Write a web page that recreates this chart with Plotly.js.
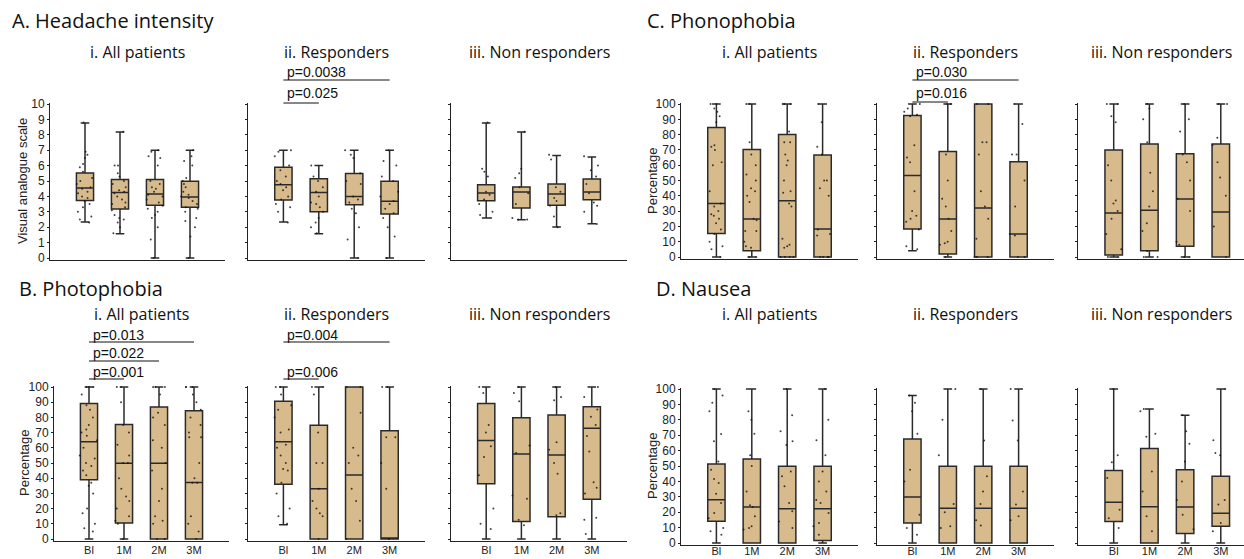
<!DOCTYPE html>
<html><head><meta charset="utf-8">
<script src="https://cdn.plot.ly/plotly-3.0.1.min.js"></script>
<style>html,body{margin:0;padding:0;background:#fff}#chart{width:1244px;height:559px}</style>
</head><body><div id="chart"></div>
<script>
// ---------- DATA ----------
const categories = ['Bl','1M','2M','3M'];
// stats per category: [lower whisker, Q1, median, Q3, upper whisker]
const statsA1 = [[2.34,3.74,4.55,5.52,8.77],[1.58,3.18,4.26,5.09,8.18],[0,3.42,4.16,5.09,7.0],[0,3.29,3.96,4.98,7.0]];
const statsA2 = [[2.34,3.77,4.76,5.89,7.0],[1.58,3.0,4.26,5.15,6.0],[0,3.46,4.0,5.48,7.0],[0,2.86,3.68,4.98,7.0]];
const statsA3 = [[2.6,3.72,4.22,4.76,8.77],[2.49,3.25,4.29,4.61,8.18],[2.01,3.42,4.16,4.81,6.65],[2.23,3.79,4.29,5.13,6.56]];
const statsC1 = [[0,15.3,34.9,84.7,100],[0,4.1,24.8,70.2,100],[0,0,36.8,80,100],[0,0,18.3,66.7,100]];
const statsC2 = [[4.1,18.3,53.2,92.5,100],[0,2,24.8,69,100],[0,0,32,100,100],[0,0,15,62.3,100]];
const statsC3 = [[0,1.3,28.8,70,100],[0,4.1,30.5,73.9,100],[0,7,37.9,67.5,100],[0,0,29.4,73.9,100]];
const statsB1 = [[0,38.9,64,89.1,100],[0,10.5,49.8,75.3,100],[0,0,49.8,86.9,100],[0,0,37.1,84.3,100]];
const statsB2 = [[9.4,36,64,90.6,100],[0,0,33,74.9,100],[0,0,42.1,100,100],[0,0,0,71.2,100]];
const statsB3 = [[0,36.3,64.8,89.1,100],[0,11.5,55.9,79.8,100],[0,14.6,55.2,81.5,100],[0,26.1,72.8,87,100]];
const statsD1 = [[0,14.1,28.1,51.3,100],[0,0,23.4,54.5,100],[0,0,22.3,49.8,100],[0,1.7,22.3,49.8,100]];
const statsD2 = [[0,13,29.9,67.5,95.7],[0,0,22.5,49.8,100],[0,0,22.5,49.8,100],[0,0,22.5,49.8,100]];
const statsD3 = [[0,13.9,26.4,47,100],[0,0,23.6,61.3,87],[0,6.1,23.4,47.6,82.9],[0,10.8,19.3,43.3,100]];

// individual patient values per category
const ptsA1 = [[8.8,6.9,6.7,6.5,6.1,5.9,5.6,5.2,5.0,4.8,4.6,4.5,4.3,4.2,4.0,3.9,3.7,3.5,3.3,3.0,2.7,2.5,2.3],
               [8.2,6.0,6.0,5.5,5.3,5.0,4.8,4.6,4.4,4.3,4.2,4.0,3.8,3.6,3.5,3.3,3.1,2.8,2.6,2.5,2.3,2.0,1.6],
               [7.0,6.9,6.6,6.5,6.0,5.0,4.8,4.6,4.5,4.3,4.1,4.0,3.8,3.6,3.4,3.2,3.0,2.8,2.6,2.0,1.2,0],
               [7.0,6.6,6.3,6.0,5.2,5.0,4.8,4.6,4.3,4.1,4.0,3.9,3.7,3.5,3.3,3.2,3.0,2.6,2.4,2.0,1.4,0]];
const ptsA2 = [[7.0,6.9,6.6,6.0,5.7,5.3,5.0,4.8,4.6,4.4,4.0,3.8,3.5,3.3,3.0,2.3],
               [6.0,5.3,5.0,4.6,4.3,4.0,3.6,3.5,3.3,3.0,2.6,2.3,2.0,1.6],
               [7.0,6.7,6.5,5.5,5.0,4.8,4.0,3.8,3.6,3.2,2.9,2.0,1.2,0],
               [7.0,6.3,6.0,5.3,5.0,4.3,4.0,3.7,3.5,3.2,2.9,2.6,2.0,1.4,0]];
const ptsA3 = [[8.8,5.8,5.6,5.3,4.3,4.1,3.8,3.5,3.0,2.8,2.6],
               [8.2,5.8,5.5,5.2,4.6,4.2,3.5,2.6,2.5,2.5],
               [6.7,6.4,4.6,4.3,3.9,3.7,3.4,2.7,2.0],
               [6.6,6.0,5.7,5.3,4.8,4.2,3.6,3.4,3.0,2.2]];
const ptsC1 = [[100,100,97,95,92,88,73,72,70,62,60,43,35,33,30,28,27,25,22,18,15,10,7,5,0],
               [100,100,75,67,60,54,50,45,43,40,36,25,24,17,17,10,7,6,0,0],
               [100,100,100,82,75,75,67,63,60,50,43,42,35,33,12,8,7,6,0,0,0,0],
               [100,88,72,67,50,50,45,40,18,15,14,0,0,0,0]];
const ptsC2 = [[100,97,95,93,92,73,65,62,43,30,27,25,23,18,7,5],
               [100,100,67,50,38,33,25,17,10,9,8,0],
               [100,100,75,75,67,43,33,25,12,0,0,0],
               [100,87,67,67,50,33,15,14,0,0]];
const ptsC3 = [[100,100,92,88,60,50,37,35,30,25,15,5,0,0],
               [100,97,90,75,55,43,33,22,17,4,0,0],
               [100,90,82,67,62,50,38,30,10,8,0,0],
               [100,100,78,73,62,52,40,20,0]];
const ptsB1 = [[100,100,100,95,88,85,80,75,72,70,68,65,60,55,53,50,48,45,42,37,35,30,20,17,10,7,5],
               [100,100,90,75,70,62,55,50,50,40,33,28,25,20,15,12,10,0],
               [100,100,100,95,83,80,75,65,60,50,45,33,25,15,12,10,0,0],
               [100,100,100,95,90,85,80,75,70,67,67,50,40,37,37,15,10,5,0]];
const ptsB2 = [[100,100,95,88,85,80,72,70,62,60,55,50,46,45,37,30,20,15,10],
               [100,100,95,70,50,50,33,25,20,17,15,0],
               [100,100,83,60,55,50,33,25,12,0],
               [100,100,67,67,50,33,0]];
const ptsB3 = [[100,96,75,70,61,54,42,20,10,6.5],
               [100,96,90.6,61.5,56.5,28.7,26.5,12.6,9],
               [100,93.5,91.3,63.7,58.7,50,43,17,15.6],
               [100,93.5,85.2,80.4,75,67.8,57.6,37.4,33.7,30,14,12.6,3.3]];
const ptsD1 = [[100,95.7,91,85.5,70.8,66,53,47.6,41.6,39,32,26,19.5,16,9.7,7.6,5.4],
               [100,85.5,80,71,57,50,33.5,24.5,23.4,17.3,10.8,9.7,8.7],
               [100,83,72.5,66,63.6,46.5,43.3,36.8,26,20.6,14,9.7],
               [100,80,66.7,57,46.5,40,33.5,28,26,19.5,13,10.8,5.4]];
const ptsD2 = [[95.7,91,85.5,71,47.6,40,18.4,9.7,5.4],
               [100,80,57,25.3,20,10.8,9.7],
               [100,66.5,43.3,33.5,25.3,14.7,11.3],
               [100,79.6,66.5,33.5,25,17.3,14.7]];
const ptsD3 = [[100,57,52.4,42.2,21.6,16,9.7],
               [87,85.5,71,69,46.5,33.5,17.3,7.6],
               [83,72.5,64.5,53,40,28,18.4,9],
               [100,66.7,58.4,57,28,25,13,7.6]];

// ---------- LAYOUT ----------
const W = 1244, H = 559;
const panels = [
  {stats:statsA1, pts:ptsA1, col:[50,225],   row:[104,258], xr:[-1,4],    ymax:10,  dtick:1,  ylab:true,  xlab:false, so:0,  sub:'i. All patients'},
  {stats:statsA2, pts:ptsA2, col:[248,425],  row:[104,258], xr:[-1,4],    ymax:10,  dtick:1,  ylab:false, xlab:false, so:0,  sub:'ii. Responders'},
  {stats:statsA3, pts:ptsA3, col:[451,627],  row:[104,258], xr:[-1,4],    ymax:10,  dtick:1,  ylab:false, xlab:false, so:0,  sub:'iii. Non responders'},
  {stats:statsC1, pts:ptsC1, col:[681,858],  row:[104,257], xr:[-1,4],    ymax:100, dtick:10, ylab:true,  xlab:false, so:0,  sub:'i. All patients'},
  {stats:statsC2, pts:ptsC2, col:[877,1054], row:[104,257], xr:[-1,4],    ymax:100, dtick:10, ylab:false, xlab:false, so:0,  sub:'ii. Responders'},
  {stats:statsC3, pts:ptsC3, col:[1078,1244],row:[104,257], xr:[-1,3.65], ymax:100, dtick:10, ylab:false, xlab:false, so:0,  sub:'iii. Non responders'},
  {stats:statsB1, pts:ptsB1, col:[54,229],   row:[387,539], xr:[-1,4],    ymax:100, dtick:10, ylab:true,  xlab:true,  so:-1, sub:'i. All patients'},
  {stats:statsB2, pts:ptsB2, col:[248,425],  row:[387,539], xr:[-1,4],    ymax:100, dtick:10, ylab:false, xlab:true,  so:-1, sub:'ii. Responders'},
  {stats:statsB3, pts:ptsB3, col:[451,627],  row:[387,539], xr:[-1,4],    ymax:100, dtick:10, ylab:false, xlab:true,  so:-1, sub:'iii. Non responders'},
  {stats:statsD1, pts:ptsD1, col:[681,858],  row:[389,543], xr:[-1,4],    ymax:100, dtick:10, ylab:true,  xlab:true,  so:-4, sub:'i. All patients'},
  {stats:statsD2, pts:ptsD2, col:[877,1054], row:[389,543], xr:[-1,4],    ymax:100, dtick:10, ylab:false, xlab:true,  so:-4, sub:'ii. Responders'},
  {stats:statsD3, pts:ptsD3, col:[1078,1244],row:[389,543], xr:[-1,3.65], ymax:100, dtick:10, ylab:false, xlab:true,  so:-4, sub:'iii. Non responders'}
];

const TICKFONT = {family:'Liberation Sans, Arial, sans-serif', size:12, color:'#222'};
const XTICKFONT = {family:'Liberation Sans, Arial, sans-serif', size:11, color:'#222'};
const TITLEFONT = 'Open Sans, Noto Sans, sans-serif';
const FILL = '#d8bb8c';

const traces = [];
const layout = {
  width: W, height: H, margin:{l:0,r:0,t:0,b:0},
  paper_bgcolor:'#fff', plot_bgcolor:'rgba(0,0,0,0)',
  showlegend:false, boxmode:'overlay',
  shapes:[], annotations:[]
};

panels.forEach((p, i) => {
  const n = i + 1, s = n === 1 ? '' : String(n);
  const xa = 'x' + s, ya = 'y' + s;
  traces.push({
    type:'box', xaxis:xa, yaxis:ya, x:categories,
    lowerfence:p.stats.map(v=>v[0]), q1:p.stats.map(v=>v[1]), median:p.stats.map(v=>v[2]),
    q3:p.stats.map(v=>v[3]), upperfence:p.stats.map(v=>v[4]),
    fillcolor:FILL, line:{color:'#2a2a2a', width:1.5}, width:0.49, whiskerwidth:0.5,
    boxpoints:false, hoverinfo:'skip'
  });
  const px = [], py = [];
  p.pts.forEach((arr, k) => arr.forEach(v => { px.push(categories[k]); py.push(v); }));
  traces.push({
    type:'box', xaxis:xa, yaxis:ya, x:px, y:py,
    boxpoints:'all', jitter:0.9, pointpos:0, width:0.6,
    fillcolor:'rgba(0,0,0,0)', line:{color:'rgba(0,0,0,0)', width:0},
    marker:{size:2, color:'rgba(20,20,20,0.8)'}, hoverinfo:'skip'
  });
  const pad = 1.5 * p.ymax / (p.row[1] - p.row[0]);
  layout['xaxis' + s] = {
    domain:[p.col[0]/W, p.col[1]/W], range:p.xr, type:'category', anchor:ya,
    showline:true, linecolor:'#222', linewidth:1, ticks:'', showgrid:false, zeroline:false,
    showticklabels:p.xlab, tickfont:XTICKFONT, ticklabelstandoff:p.so, fixedrange:true
  };
  layout['yaxis' + s] = {
    domain:[1 - (p.row[1]+1.5)/H, 1 - (p.row[0]-1.5)/H], range:[-pad, p.ymax + pad], anchor:xa,
    showline:true, linecolor:'#222', linewidth:1, ticks:'outside', ticklen:2, tickwidth:1, tickcolor:'#222',
    tick0:0, dtick:p.dtick, showgrid:false, zeroline:false, showticklabels:p.ylab, tickfont:TICKFONT,
    fixedrange:true
  };
  // subplot title
  const subY = n <= 6 ? 52 : 314;
  layout.annotations.push({
    xref:'paper', yref:'paper', x:((p.col[0]+p.col[1])/2)/W, y:1 - subY/H,
    xanchor:'center', yanchor:'middle', showarrow:false, text:p.sub,
    font:{family:TITLEFONT, size:16, color:'#111'}
  });
});

// panel titles
[['A. Headache intensity', 10, 20], ['B. Photophobia', 17, 288], ['C. Phonophobia', 645, 20], ['D. Nausea', 654, 288]]
 .forEach(t => layout.annotations.push({
   xref:'paper', yref:'paper', x:t[1]/W, y:1 - t[2]/H, xanchor:'left', yanchor:'middle',
   showarrow:false, text:t[0], font:{family:TITLEFONT, size:20, color:'#111'}
 }));

// y axis titles
[['Visual analogue scale', 22, 181], ['Percentage', 652, 181], ['Percentage', 24, 463], ['Percentage', 652, 466]]
 .forEach(t => layout.annotations.push({
   xref:'paper', yref:'paper', x:t[1]/W, y:1 - t[2]/H, xanchor:'center', yanchor:'middle',
   showarrow:false, text:t[0], textangle:-90, font:{family:'Liberation Sans, Arial, sans-serif', size:13, color:'#222'}
 }));

// significance bars: [axis suffix, p text, to-category index, text y px, line y px]
const sigBars = [
  ['2', 'p=0.0038', 3, 72, 80], ['2', 'p=0.025', 1, 93, 103],
  ['5', 'p=0.030', 3, 72, 80], ['5', 'p=0.016', 1, 93, 102],
  ['7', 'p=0.013', 3, 335, 342], ['7', 'p=0.022', 2, 353, 361], ['7', 'p=0.001', 1, 372, 379],
  ['8', 'p=0.004', 3, 335, 342], ['8', 'p=0.006', 1, 372, 379]
];
sigBars.forEach(b => {
  layout.shapes.push({type:'line', xref:'x'+b[0], yref:'paper', x0:0, x1:b[2],
    y0:1 - b[4]/H, y1:1 - b[4]/H, line:{color:'#111', width:1}});
  layout.annotations.push({xref:'x'+b[0], yref:'paper', x:0, y:1 - b[3]/H, xanchor:'left', yanchor:'middle',
    xshift:2, showarrow:false, text:b[1], font:{family:'Liberation Sans, Arial, sans-serif', size:14, color:'#111'}});
});

Plotly.newPlot('chart', traces, layout, {staticPlot:true, displayModeBar:false});
</script>
</body></html>
